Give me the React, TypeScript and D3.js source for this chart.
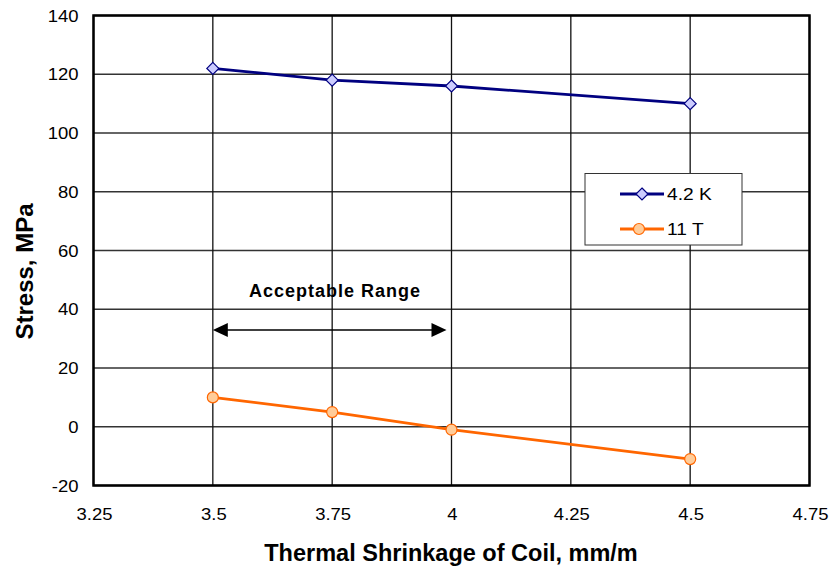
import React from "react";
import * as d3 from "d3";

const xTicks = [3.25, 3.5, 3.75, 4, 4.25, 4.5, 4.75];
const yTicks = [-20, 0, 20, 40, 60, 80, 100, 120, 140];
const shrinkage = [3.5, 3.75, 4, 4.5];
const stress42K = [122, 118, 116, 110];
const stress11T = [10, 5, -1, -11];
const rangeStart = 3.5;
const rangeEnd = 4;

const W = 831;
const H = 572;
const left = 93.5;
const right = 809.5;
const top = 15.5;
const bottom = 485.5;
const font = "'Liberation Sans', Arial, sans-serif";

// Text drawn with a slight horizontal stretch
function WideText(props: {
  x: number;
  y: number;
  sx: number;
  size: number;
  anchor?: "start" | "middle" | "end";
  bold?: boolean;
  children: React.ReactNode;
}) {
  const { x, y, sx, size, anchor = "start", bold, children } = props;
  return (
    <text
      transform={`translate(${x},${y}) scale(${sx},1)`}
      textAnchor={anchor}
      fontSize={size}
      fontWeight={bold ? "bold" : "normal"}
      fill="#000"
    >
      {children}
    </text>
  );
}

export default function App() {
  const x = d3.scaleLinear().domain([3.25, 4.75]).range([left, right]);
  const y = d3.scaleLinear().domain([-20, 140]).range([bottom, top]);
  const line = d3
    .line<[number, number]>()
    .x((d) => x(d[0]))
    .y((d) => y(d[1]));
  const pts42 = shrinkage.map((s, i) => [s, stress42K[i]] as [number, number]);
  const pts11 = shrinkage.map((s, i) => [s, stress11T[i]] as [number, number]);
  const diamond = (cx: number, cy: number, r: number) =>
    `M${cx},${cy - r}L${cx + r},${cy}L${cx},${cy + r}L${cx - r},${cy}Z`;

  const arrowY = 330;
  const ax0 = x(rangeStart);
  const ax1 = x(rangeEnd) - 5;

  return (
    <svg
      width={W}
      height={H}
      style={{ position: "absolute", left: 0, top: 0, background: "#fff" }}
      fontFamily={font}
    >
      {/* grid */}
      {yTicks.map((t) => (
        <line key={"gy" + t} x1={left} x2={right} y1={y(t)} y2={y(t)} stroke="#333" strokeWidth={1.3} />
      ))}
      {xTicks.map((t) => (
        <line key={"gx" + t} x1={x(t)} x2={x(t)} y1={top} y2={bottom} stroke="#111" strokeWidth={1.3} />
      ))}
      {/* frame */}
      <rect x={left} y={top} width={right - left} height={bottom - top} fill="none" stroke="#000" strokeWidth={2.5} />
      {/* tick labels */}
      {yTicks.map((t) => (
        <WideText key={"ty" + t} x={78.5} y={y(t) + 6} sx={1.12} size={16.5} anchor="end">
          {t}
        </WideText>
      ))}
      {xTicks.map((t) => (
        <WideText key={"tx" + t} x={x(t) + 1} y={519.5} sx={1.12} size={16.5} anchor="middle">
          {t}
        </WideText>
      ))}
      {/* axis titles */}
      <text x={451} y={561} textAnchor="middle" fontSize={23.5} fontWeight="bold">
        Thermal Shrinkage of Coil, mm/m
      </text>
      <text
        transform={`translate(32.5,${271.5}) rotate(-90)`}
        textAnchor="middle"
        fontSize={24}
        fontWeight="bold"
      >
        Stress, MPa
      </text>
      {/* acceptable range annotation */}
      <text x={335} y={297} textAnchor="middle" fontSize={18} fontWeight="bold" letterSpacing={1}>
        Acceptable Range
      </text>
      <line x1={ax0 + 12} x2={ax1 - 12} y1={arrowY} y2={arrowY} stroke="#000" strokeWidth={1.5} />
      <path d={`M${ax0},${arrowY}L${ax0 + 15},${arrowY - 7}L${ax0 + 15},${arrowY + 7}Z`} fill="#000" />
      <path d={`M${ax1},${arrowY}L${ax1 - 15},${arrowY - 7}L${ax1 - 15},${arrowY + 7}Z`} fill="#000" />
      {/* series */}
      <path d={line(pts42) || ""} fill="none" stroke="#000080" strokeWidth={2.8} />
      <path d={line(pts11) || ""} fill="none" stroke="#ff6600" strokeWidth={2.8} />
      {pts42.map((p, i) => (
        <path key={"d" + i} d={diamond(x(p[0]), y(p[1]), 6)} fill="#ccccff" stroke="#000080" strokeWidth={1.2} />
      ))}
      {pts11.map((p, i) => (
        <circle key={"c" + i} cx={x(p[0])} cy={y(p[1])} r={5.5} fill="#ffcc99" stroke="#ff6600" strokeWidth={1.2} />
      ))}
      {/* legend */}
      <rect x={585} y={173.5} width={157} height={71.5} fill="#fff" stroke="#333" strokeWidth={1} />
      <line x1={620} x2={664} y1={194} y2={194} stroke="#000080" strokeWidth={2.8} />
      <path d={diamond(642, 194, 6)} fill="#ccccff" stroke="#000080" strokeWidth={1.2} />
      <WideText x={667} y={199.5} sx={1.2} size={16}>4.2 K</WideText>
      <line x1={620} x2={664} y1={229} y2={229} stroke="#ff6600" strokeWidth={2.8} />
      <circle cx={639} cy={229} r={5.5} fill="#ffcc99" stroke="#ff6600" strokeWidth={1.2} />
      <WideText x={667} y={234.5} sx={1.2} size={16}>11 T</WideText>
    </svg>
  );
}
